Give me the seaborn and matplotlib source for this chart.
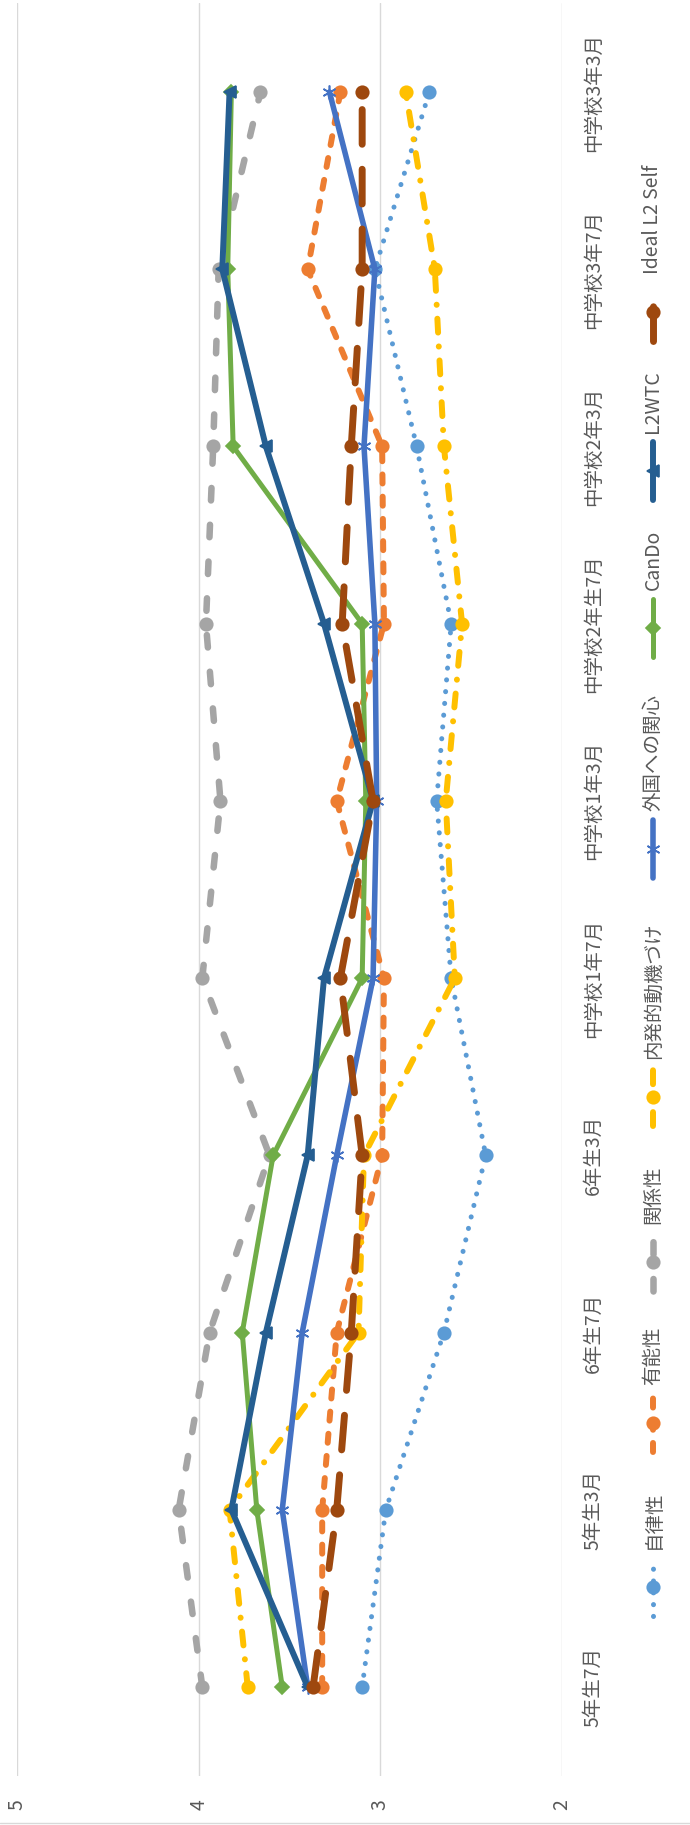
import numpy as np
import matplotlib
matplotlib.use("Agg")
import matplotlib.pyplot as plt
import seaborn as sns

# categories (bottom -> top in the rotated chart)
categories = ['5年生7月', '5年生3月', '6年生7月', '6年生3月', '中学校1年7月',
              '中学校1年3月', '中学校2年生7月', '中学校2年3月', '中学校3年7月', '中学校3年3月']

jiritsu = [3.10, 2.97, 2.65, 2.42, 2.61, 2.69, 2.61, 2.80, 3.03, 2.73]
yunou = [3.32, 3.32, 3.24, 2.99, 2.98, 3.24, 2.98, 2.99, 3.40, 3.22]
kankei = [3.98, 4.11, 3.94, 3.61, 3.98, 3.88, 3.96, 3.92, 3.89, 3.66]
naihatsu = [3.73, 3.83, 3.12, 3.09, 2.59, 2.64, 2.55, 2.65, 2.70, 2.86]
gaikoku = [3.40, 3.54, 3.43, 3.24, 3.04, 3.02, 3.03, 3.09, 3.03, 3.28]
cando = [3.54, 3.68, 3.76, 3.59, 3.10, 3.08, 3.10, 3.81, 3.84, 3.82]
l2wtc = [3.40, 3.82, 3.63, 3.40, 3.31, 3.04, 3.31, 3.63, 3.87, 3.83]
ideal = [3.37, 3.24, 3.16, 3.10, 3.22, 3.04, 3.21, 3.16, 3.10, 3.10]

series_names = ['自律性', '有能性', '関係性', '内発的動機づけ', '外国への関心', 'CanDo', 'L2WTC', 'Ideal L2 Self']
series_values = [jiritsu, yunou, kankei, naihatsu, gaikoku, cando, l2wtc, ideal]
value_ticks = [5, 4, 3, 2]

# styles: color, linewidth, linestyle, marker, markersize
styles = [
    ('#5B9BD5', 3.6, (0, (0.1, 8.4)), 'o', 9),
    ('#ED7D31', 4.3, (0, (6.5, 9.5)), 'o', 9),
    ('#A5A5A5', 4.7, (0, (9, 17.5)), 'o', 9),
    ('#FFC000', 4.3, (0, (10, 10, 0.1, 10)), 'o', 9),
    ('#4472C4', 4.0, '-', (6, 2, 0), 10),
    ('#70AD47', 3.6, '-', 'D', 7),
    ('#255E91', 4.3, '-', '<', 9),
    ('#9E480E', 5.0, (0, (25, 18)), 'o', 9),
]
# legend sample centres (pixels from top)
legend_y = [1587, 1423, 1262, 1097, 849, 628, 471, 312]

sns.set_theme(style='white')
plt.rcParams['font.family'] = ['Noto Sans CJK JP', 'DejaVu Sans']
plt.rcParams['lines.scale_dashes'] = False

W, H = 690, 1825
fig = plt.figure(figsize=(W / 100, H / 100), dpi=100)
ax = fig.add_axes([17 / W, (H - 1775.6) / H, (562 - 17) / W, 1772.2 / H])

pos = np.arange(len(categories))
for name, vals, (col, lw, ls, mk, ms) in zip(series_names, series_values, styles):
    sns.lineplot(x=vals, y=pos, orient='y', estimator=None, sort=False, ax=ax,
                 color=col, linewidth=lw, linestyle=ls, marker=mk, markersize=ms,
                 markeredgecolor=col, markerfacecolor=col, markeredgewidth=1.2,
                 dash_capstyle='round', solid_capstyle='round', solid_joinstyle='round')

ax.set_xlim(5, 2)
ax.set_ylim(-0.5, len(categories) - 0.5)
ax.set_xticks(value_ticks, labels=[str(v) for v in value_ticks], rotation=90)
ax.set_yticks(pos, labels=categories, rotation=90, va='center')
ax.yaxis.tick_right()
ax.tick_params(axis='x', length=0, pad=17, labelsize=14, labelcolor='#595959')
ax.tick_params(axis='y', length=0, pad=15, labelsize=14, labelcolor='#595959')
ax.grid(axis='x', color='#D9D9D9', linewidth=1)
ax.grid(axis='y', visible=False)
for s in ax.spines.values():
    s.set_visible(False)
ax.set_xlabel('')
ax.set_ylabel('')

# manual rotated legend in pixel coordinates
lax = fig.add_axes([0, 0, 1, 1], facecolor='none')
lax.set_xlim(0, W)
lax.set_ylim(H, 0)
lax.axis('off')
for name, yc, (col, lw, ls, mk, ms) in zip(series_names, legend_y, styles):
    lax.plot([653, 653], [yc + 29, yc - 29], color=col, linewidth=lw, linestyle=ls,
             dash_capstyle='round', solid_capstyle='round')
    lax.plot([653], [yc], marker=mk, markersize=ms, color=col, markeredgewidth=1.2)
    lax.text(653, yc - 38, name, rotation=90, ha='center', va='bottom',
             fontsize=14, color='#595959')
lax.plot([0, W], [1823, 1823], color='#D9D9D9', linewidth=1)

fig.savefig('out.png', dpi=100)
